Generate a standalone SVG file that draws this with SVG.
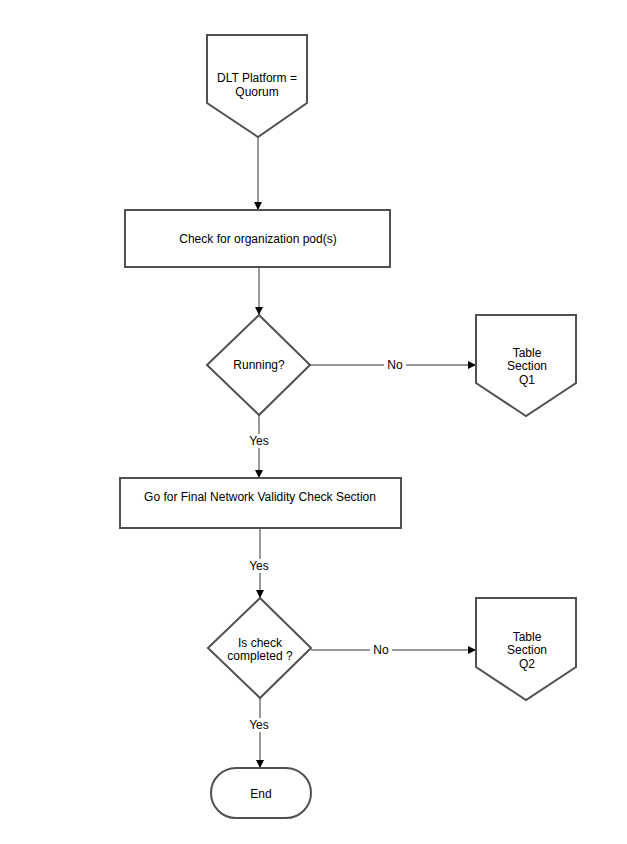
<svg xmlns="http://www.w3.org/2000/svg" width="627" height="844" viewBox="0 0 627 844">
<style>
.s{fill:#fff;stroke:#505050;stroke-width:2}
.c{stroke:#333;stroke-width:1;fill:none}
text{font-family:"Liberation Sans",Arial,sans-serif;font-size:12px;fill:#000;text-anchor:middle}
.l{fill:#fff}
</style>
<defs><marker id="a" markerWidth="10" markerHeight="10" refX="9" refY="5" orient="auto" markerUnits="userSpaceOnUse"><path d="M1,1 L9,5 L1,9 Z" fill="#000"/></marker></defs>
<rect width="627" height="844" fill="#fff"/>
<g id="connectors">
<path class="c" d="M258,137 V210" marker-end="url(#a)"/>
<path class="c" d="M259,267 V315" marker-end="url(#a)"/>
<path class="c" d="M310,365 H476" marker-end="url(#a)"/>
<rect class="l" x="384" y="358" width="22" height="14"/><text x="395" y="369">No</text>
<path class="c" d="M259,415 V478" marker-end="url(#a)"/>
<rect class="l" x="247" y="434" width="24" height="14"/><text x="259" y="445">Yes</text>
<path class="c" d="M260,528 V598" marker-end="url(#a)"/>
<rect class="l" x="247" y="559" width="24" height="14"/><text x="259" y="570">Yes</text>
<path class="c" d="M311,650 H476" marker-end="url(#a)"/>
<rect class="l" x="370" y="643" width="22" height="14"/><text x="381" y="654">No</text>
<path class="c" d="M260,698 V768" marker-end="url(#a)"/>
<rect class="l" x="247" y="718" width="24" height="14"/><text x="259" y="729">Yes</text>
</g>
<g id="start"><path class="s" d="M207,35 H307 V103 L258,137 L207,103 Z"/><text x="257" y="82">DLT Platform =</text><text x="257" y="96">Quorum</text></g>
<g id="check"><rect class="s" x="125" y="210" width="265" height="57"/><text x="258" y="243">Check for organization pod(s)</text></g>
<g id="running"><path class="s" d="M259,315 L310,365 L259,415 L207,365 Z"/><text x="259" y="369">Running?</text></g>
<g id="q1"><path class="s" d="M476,315 H576 V383 L526,416 L476,383 Z"/><text x="527" y="357">Table</text><text x="527" y="370">Section</text><text x="527" y="384">Q1</text></g>
<g id="final"><rect class="s" x="120" y="478" width="281" height="50"/><text x="260" y="501">Go for Final Network Validity Check Section</text></g>
<g id="completed"><path class="s" d="M260,598 L311,648 L260,698 L208,648 Z"/><text x="260" y="647">Is check</text><text x="260" y="660">completed ?</text></g>
<g id="q2"><path class="s" d="M476,598 H576 V667 L526,700 L476,667 Z"/><text x="527" y="641">Table</text><text x="527" y="654">Section</text><text x="527" y="668">Q2</text></g>
<g id="end"><rect class="s" x="211" y="768" width="100" height="50" rx="25"/><text x="261" y="798">End</text></g>
</svg>
